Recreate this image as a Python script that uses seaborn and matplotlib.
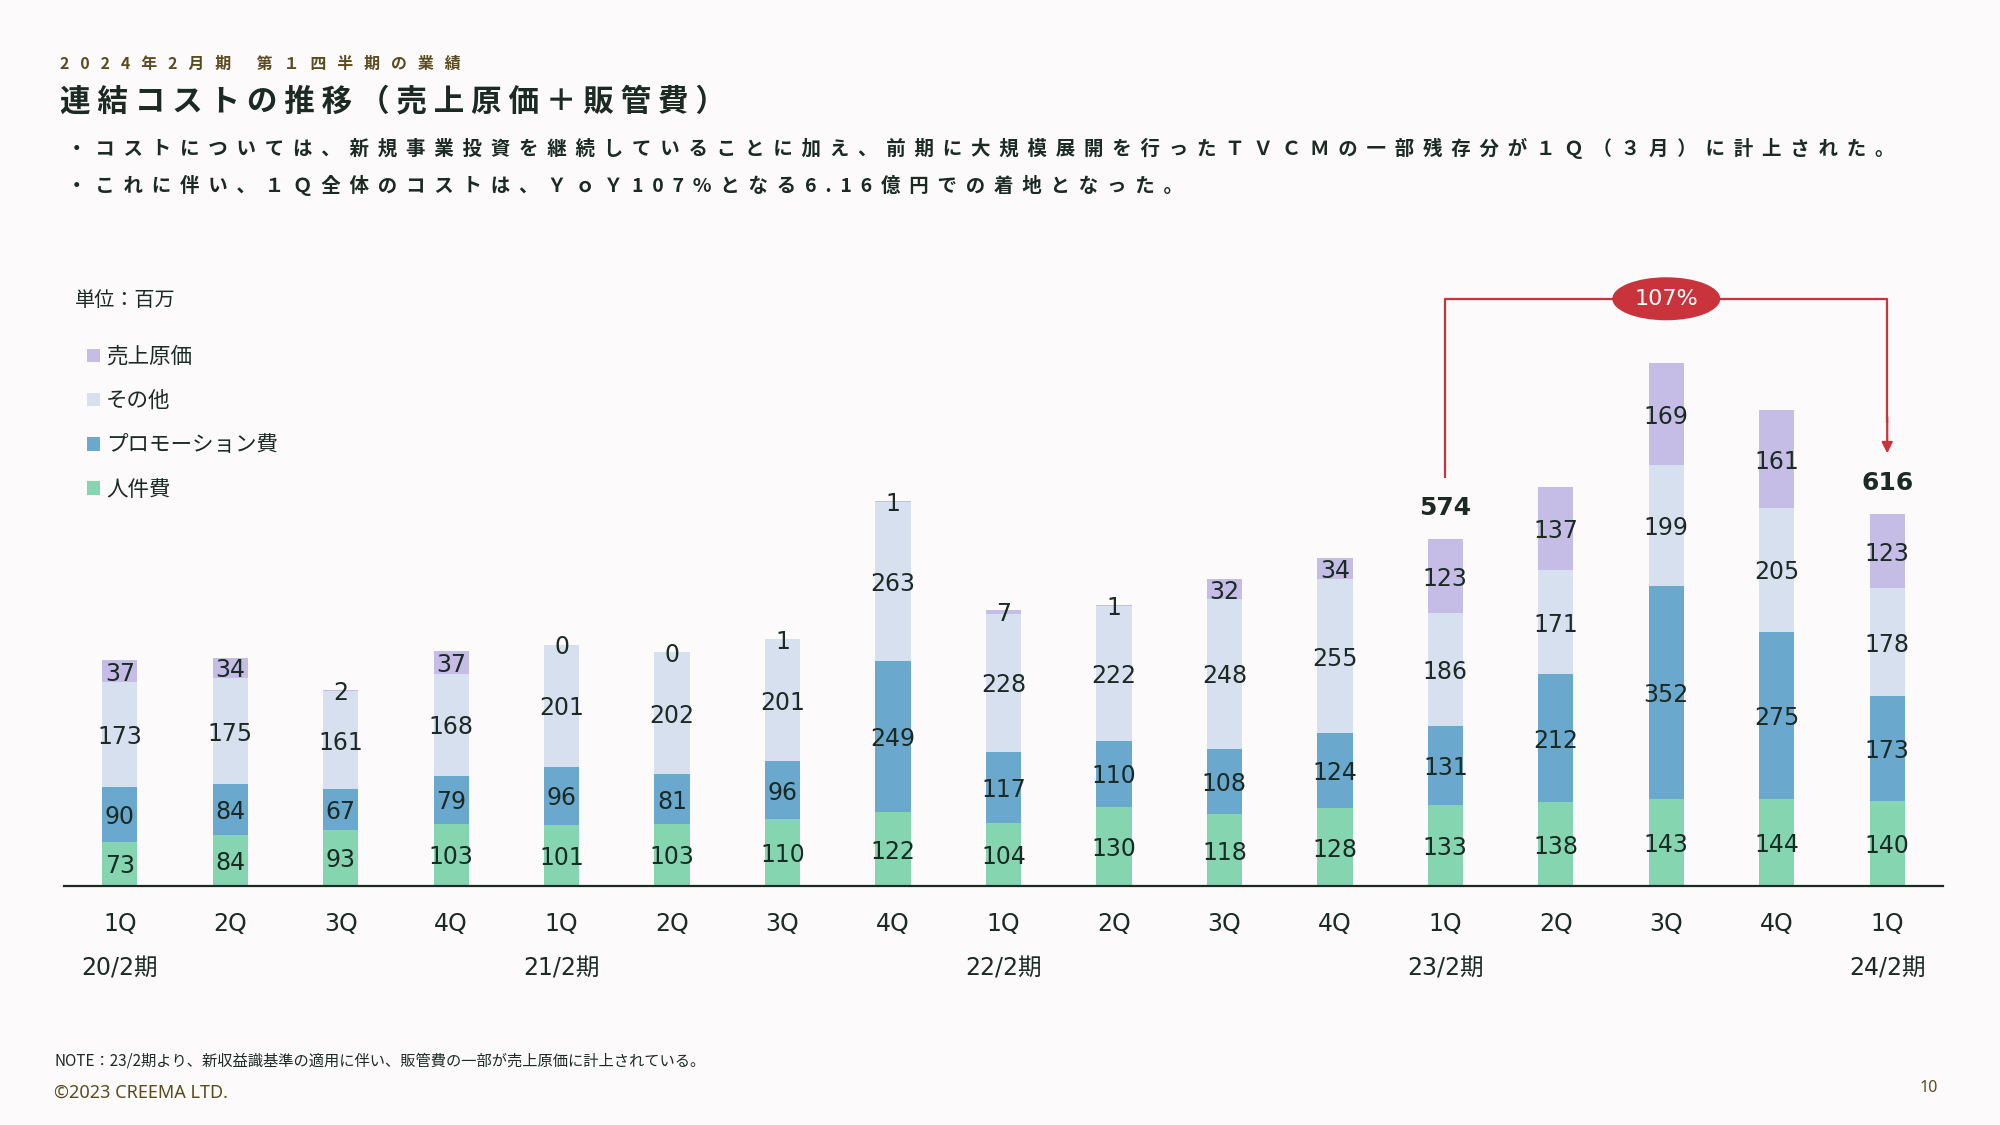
import numpy as np
import pandas as pd
import matplotlib
matplotlib.use("Agg")
import matplotlib.pyplot as plt
import seaborn as sns
from matplotlib.patches import Ellipse

# ---------------- data ----------------
quarters = ["1Q", "2Q", "3Q", "4Q", "1Q", "2Q", "3Q", "4Q", "1Q", "2Q", "3Q", "4Q",
            "1Q", "2Q", "3Q", "4Q", "1Q"]
fiscal_years = ["20/2期", "21/2期", "22/2期", "23/2期", "24/2期"]
year_positions = [0, 4, 8, 12, 16]
personnel = [73, 84, 93, 103, 101, 103, 110, 122, 104, 130, 118, 128, 133, 138, 143, 144, 140]
promotion = [90, 84, 67, 79, 96, 81, 96, 249, 117, 110, 108, 124, 131, 212, 352, 275, 173]
other = [173, 175, 161, 168, 201, 202, 201, 263, 228, 222, 248, 255, 186, 171, 199, 205, 178]
cogs = [37, 34, 2, 37, 0, 0, 1, 1, 7, 1, 32, 34, 123, 137, 169, 161, 123]
series_names = ["人件費", "プロモーション費", "その他", "売上原価"]
total_positions = [12, 16]
total_labels = ["574", "616"]
yoy_label = "107%"

subtitle = "2024年2月期 第１四半期の業績"
title = "連結コストの推移（売上原価＋販管費）"
bullet1 = "・コストについては、新規事業投資を継続していることに加え、前期に大規模展開を行ったＴＶＣＭの一部残存分が１Ｑ（３月）に計上された。"
bullet2 = "・これに伴い、１Ｑ全体のコストは、ＹｏＹ107%となる6.16億円での着地となった。"
unit_text = "単位：百万"
note_text = "NOTE：23/2期より、新収益識基準の適用に伴い、販管費の一部が売上原価に計上されている。"
copyright_text = "©2023 CREEMA LTD."
page_text = "10"

# ---------------- style ----------------
colors = ["#86d5b1", "#6aa8cd", "#d7e0ef", "#c6bde6"]
TEXT = "#1b2b24"
OLIVE = "#5b4b1f"
RED = "#c9333b"
BG = "#fcfafb"
JP = ["Noto Sans CJK JP", "DejaVu Sans"]

sns.set_theme(style="white")
plt.rcParams["font.family"] = ["DejaVu Sans", "Noto Sans CJK JP"]

W, H = 2000, 1125
fig = plt.figure(figsize=(W / 100, H / 100), dpi=100, facecolor=BG)
ax = fig.add_axes([64 / W, 1 - 886 / H, 1879 / W, 616 / H])
ax.set_facecolor(BG)

n = len(quarters)
periods = [f"{fiscal_years[i // 4]} {q}" for i, q in enumerate(quarters)]
df = pd.DataFrame({"period": periods, "人件費": personnel, "プロモーション費": promotion,
                   "その他": other, "売上原価": cogs})

bottoms = np.zeros(n)
containers = []
for name, col in zip(series_names, colors):
    sns.barplot(data=df, x="period", y=name, order=periods, color=col, saturation=1,
                width=0.32, errorbar=None, bottom=bottoms.copy(), linewidth=0, ax=ax)
    cont = ax.containers[-1]
    containers.append(cont)
    texts = ax.bar_label(cont, labels=[str(v) for v in df[name]], label_type="center",
                         fontsize=17, color=TEXT)
    for t in texts:
        t.set_va("center_baseline")
    bottoms += df[name].values

if ax.get_legend() is not None:
    ax.get_legend().remove()

totals = bottoms
ymax = 1016.5
ax.set_xlim(-0.505, n - 0.495)
ax.set_ylim(0, ymax)
ax.set_xlabel("")
ax.set_ylabel("")
ax.set_yticks([])
ax.set_xticks(range(n))
ax.set_xticklabels(quarters, fontsize=17, color=TEXT)
ax.tick_params(axis="x", length=0, pad=19)
for s in ["top", "left", "right"]:
    ax.spines[s].set_visible(False)
ax.spines["bottom"].set_color(TEXT)
ax.spines["bottom"].set_linewidth(1.6)

for pos, fy in zip(year_positions, fiscal_years):
    ax.annotate(fy, xy=(pos, 0), xycoords=("data", "axes fraction"),
                xytext=(0, -83), textcoords="offset pixels",
                ha="center", va="center", fontsize=17, color=TEXT)

for pos, lab in zip(total_positions, total_labels):
    ax.annotate(lab, xy=(pos, totals[pos]), xytext=(0, 31), textcoords="offset pixels",
                ha="center", va="center", fontsize=18, fontweight="bold", color=TEXT)

# YoY bracket
px_per_unit = 616 / ymax
bracket_y = totals.max() + 106
left_i, right_i = total_positions
ax.plot([left_i, left_i, right_i, right_i],
        [totals[left_i] + 100, bracket_y, bracket_y, totals[right_i] + 150],
        color=RED, lw=1.6, clip_on=False, solid_capstyle="butt", zorder=4)
ax.annotate("", xy=(right_i, totals[right_i] + 100), xytext=(right_i, totals[right_i] + 160),
            arrowprops=dict(arrowstyle="-|>", color=RED, lw=1.6, mutation_scale=16,
                            shrinkA=0, shrinkB=0), annotation_clip=False, zorder=4)
mid = (left_i + right_i) / 2
ax.add_patch(Ellipse((mid, bracket_y), width=108 / 110.5, height=43 / px_per_unit,
                     facecolor=RED, edgecolor="none", clip_on=False, zorder=5))
ax.text(mid, bracket_y, yoy_label, ha="center", va="center", color="white",
        fontsize=16, zorder=6)

# legend
handles = containers[::-1]
labels = series_names[::-1]
leg = fig.legend(handles, labels, loc="upper left", bbox_to_anchor=(87 / W, 1 - 346 / H),
                 frameon=False, prop={"family": JP, "size": 15.5},
                 handlelength=0.6, handleheight=0.6, handletextpad=0.28,
                 labelspacing=1.03, borderpad=0, borderaxespad=0)
for t in leg.get_texts():
    t.set_color(TEXT)

# header texts
def track(s, sep):
    return sep.join(list(s))

fig.text(60 / W, 1 - 64 / H, track(subtitle, "   "), fontsize=11.5, fontweight="bold",
         color=OLIVE, family=JP, va="center", ha="left")
fig.text(60 / W, 1 - 102 / H, track(title, " "), fontsize=22, fontweight="bold",
         color=TEXT, family=JP, va="center", ha="left")
fig.text(67 / W, 1 - 148 / H, track(bullet1, "  "), fontsize=14, fontweight="bold",
         color=TEXT, family=JP, va="center", ha="left")
fig.text(67 / W, 1 - 185 / H, track(bullet2, "  "), fontsize=14, fontweight="bold",
         color=TEXT, family=JP, va="center", ha="left")
fig.text(75 / W, 1 - 301 / H, unit_text, fontsize=14.5, color=TEXT, family=JP,
         va="center", ha="left")

# footer
fig.text(54 / W, 1 - 1061 / H, note_text, fontsize=11, color=TEXT, family=JP,
         va="center", ha="left")
fig.text(54 / W, 1 - 1093 / H, copyright_text, fontsize=13, color=OLIVE,
         family=["Noto Sans", "DejaVu Sans"], va="center", ha="left")
fig.text(1929 / W, 1 - 1088 / H, page_text, fontsize=11.5, color=OLIVE,
         family=["Noto Sans", "DejaVu Sans"], va="center", ha="center")

fig.savefig("out.png", dpi=100, facecolor=BG)
